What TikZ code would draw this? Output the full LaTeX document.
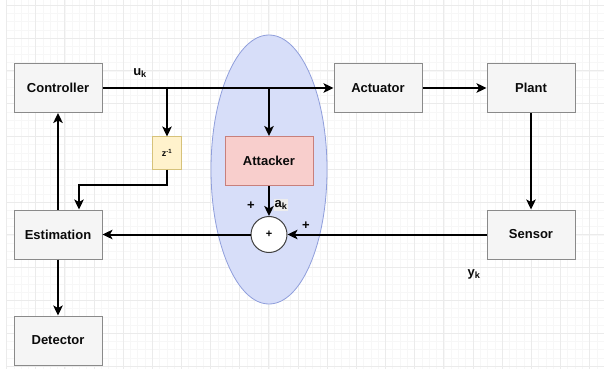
\documentclass[tikz,border=0pt]{standalone}
\usepackage{fontspec}
\setmainfont{Liberation Sans}
\usetikzlibrary{arrows.meta}

\definecolor{boxfill}{HTML}{F5F5F5}
\definecolor{boxline}{HTML}{8A8A8A}
\definecolor{attackfill}{HTML}{F8CECC}
\definecolor{attackline}{HTML}{C8807C}
\definecolor{delayfill}{HTML}{FFF2CC}
\definecolor{delayline}{HTML}{D6C27A}
\definecolor{zonefill}{HTML}{D7DEF9}
\definecolor{zoneline}{HTML}{8F9EDB}
\definecolor{labelbg}{HTML}{EDEDED}
\definecolor{txt}{HTML}{0A0A0A}

\tikzset{
  block/.style={draw=boxline, fill=boxfill, line width=1pt, minimum width=88pt,
    minimum height=49pt, inner sep=0pt, text=txt, font=\bfseries\fontsize{13}{15}\selectfont},
  attackbox/.style={block, draw=attackline, fill=attackfill},
  delaybox/.style={draw=delayline, fill=delayfill, line width=1pt, minimum width=29pt,
    minimum height=32pt, inner sep=0pt, text=txt, font=\bfseries\fontsize{9}{10}\selectfont},
  sumnode/.style={circle, draw=black!75, fill=white, line width=1pt, minimum size=36pt,
    inner sep=0pt, font=\bfseries\fontsize{11}{12}\selectfont},
  lab/.style={inner sep=1pt, text=txt, font=\bfseries\fontsize{13}{15}\selectfont},
  sig/.style={line width=2pt, -{Stealth[length=10pt,width=9.5pt,inset=2.5pt]}},
  gridminor/.style={line width=0.5pt, black!3},
  gridmajor/.style={line width=0.8pt, black!8},
}

\begin{document}
\begin{tikzpicture}[x=1pt,y=-1pt]
\useasboundingbox (0,0) rectangle (604,374);

% background grid
\foreach \i in {0,...,81} \draw[gridminor] ({6.5+7.2875*\i},0) -- ++(0,369);
\foreach \j in {0,...,44} \draw[gridminor] (6.5,{5.2+8.2*\j}) -- (604,{5.2+8.2*\j});
\foreach \i in {0,...,20} \draw[gridmajor] ({6.5+29.15*\i},0) -- ++(0,369);
\foreach \j in {0,...,11} \draw[gridmajor] (6.5,{5.2+32.8*\j}) -- (604,{5.2+32.8*\j});

% attack zone
\draw[draw=zoneline, fill=zonefill, line width=0.8pt] (269,169.5) ellipse [x radius=58, y radius=134.5];

\node[block] (controller) at (58,88) {Controller};
\node[block] (actuator) at (378,88) {Actuator};
\node[block] (plant) at (531,88) {Plant};
\node[block] (sensor) at (531,234.5) {Sensor};
\node[block] (estimation) at (58,234.5) {Estimation};
\node[block] (detector) at (58,340.5) {Detector};
\node[attackbox] (attacker) at (269,161) {Attacker};
\node[delaybox] (delay) at (167,153) {z\textsuperscript{-1}};
\node[sumnode] (sum) at (269,234.5) {+};

\draw[sig] (controller) -- (actuator);
\draw[sig] (delay |- controller) -- (delay);
\draw[sig] (attacker |- controller) -- (attacker);
\draw[sig] (actuator) -- (plant);
\draw[sig] (plant) -- (sensor);
\draw[sig] (sensor) -- (sum);
\draw[sig] (attacker) -- (sum);
\draw[sig] (sum) -- (estimation);
\coordinate (bend) at (79,185);
\draw[sig] (delay) |- (bend) -- (bend |- estimation.north);
\draw[sig] (estimation) -- (controller);
\draw[sig] (estimation) -- (detector);

\node[lab] (uk) at (140,73) {u\textsubscript{k}};
\node[lab, fill=labelbg] (ak) at (281,205) {a\textsubscript{k}};
\node[lab] (plusa) at (251,206) {+};
\node[lab] (plusy) at (306,226) {+};
\node[lab] (yk) at (474,274) {y\textsubscript{k}};
\end{tikzpicture}
\end{document}
